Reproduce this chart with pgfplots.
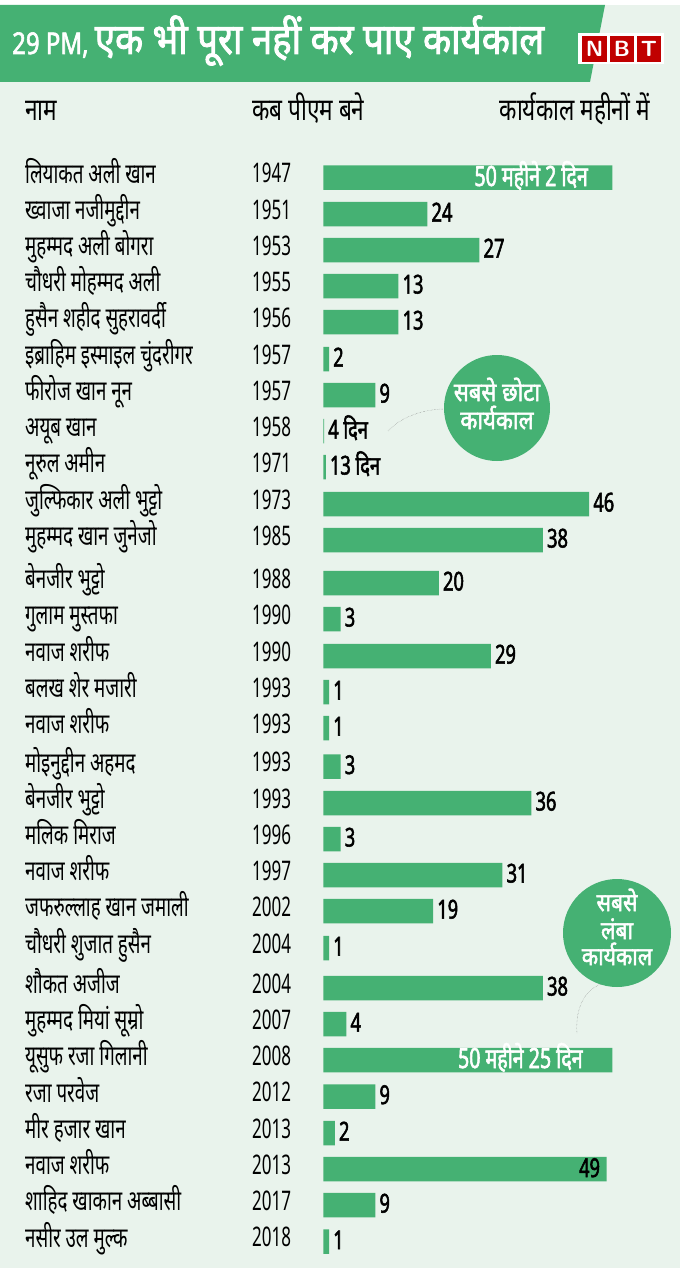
\documentclass[border=0pt]{standalone}
\usepackage{pgfplots}
\usepackage{pgfplotstable}
\pgfplotsset{compat=1.18}
\usepackage{fontspec}
\newfontfamily\namef[Script=Devanagari,FakeStretch=0.67]{Noto Sans}
\newfontfamily\yearf[Script=Devanagari,FakeStretch=0.63]{Noto Sans}
\newfontfamily\headf[Script=Devanagari,FakeStretch=0.73]{Noto Sans}
\newfontfamily\boldf[Script=Devanagari,FakeStretch=0.70,FakeBold=2]{Noto Sans}
\newfontfamily\bubf[Script=Devanagari,FakeStretch=0.85,FakeBold=2]{Noto Sans}
\newfontfamily\titlef[Script=Devanagari,FakeStretch=0.85,FakeBold=2]{Noto Sans}
\newfontfamily\titlel[Script=Devanagari,FakeStretch=0.80,FakeBold=2]{Noto Sans}
\definecolor{bg}{HTML}{E9F3EC}
\definecolor{barg}{HTML}{45B173}
\definecolor{nbtred}{HTML}{C00000}

\pgfplotstableread[col sep=comma]{
y,v,name,year,lab
177.5,50,लियाकत अली खान,1947,
214,18,ख्वाजा नजीमुद्दीन,1951,24
250,27,मुहम्मद अली बोगरा,1953,27
286,13,चौधरी मोहम्मद अली,1955,13
322,13,हुसैन शहीद सुहरावर्दी,1956,13
359,1,इब्राहिम इस्माइल चुंदरीगर,1957,2
395,9,फीरोज खान नून,1957,9
431,0.13,अयूब खान,1958,4 दिन
467,0.43,नूरुल अमीन,1971,13 दिन
504,46,जुल्फिकार अली भुट्टो,1973,46
540,38,मुहम्मद खान जुनेजो,1985,38
583,20,बेनजीर भुट्टो,1988,20
619,3,गुलाम मुस्तफा,1990,3
656,29,नवाज शरीफ,1990,29
692,1,बलख शेर मजारी,1993,1
728,1,नवाज शरीफ,1993,1
766.5,3,मोइनुद्दीन अहमद,1993,3
803,36,बेनजीर भुट्टो,1993,36
839,3,मलिक मिराज,1996,3
875,31,नवाज शरीफ,1997,31
911,19,जफरुल्लाह खान जमाली,2002,19
948,1,चौधरी शुजात हुसैन,2004,1
988,38,शौकत अजीज,2004,38
1024,4,मुहम्मद मियां सूम्रो,2007,4
1060,50,यूसुफ रजा गिलानी,2008,
1096.5,9,रजा परवेज,2012,9
1133,2,मीर हजार खान,2013,2
1169,49,नवाज शरीफ,2013,
1205,9,शाहिद खाकान अब्बासी,2017,9
1241.7,1,नसीर उल मुल्क,2018,1
}\pmtable

\begin{document}
\begin{tikzpicture}
\begin{scope}[x=1pt,y=-1pt]
  \fill[white] (0,0) rectangle (680,1273);
  \fill[bg] (0,5) rectangle (680,1268);
  \fill[barg] (0,5) -- (605,5) -- (590,82) -- (0,82) -- cycle;
  \node[anchor=base west,inner sep=0,text=white] at (12,54) {{\titlel\fontsize{30}{30}\selectfont 29 PM,\ }{\titlef\fontsize{43}{43}\selectfont एक भी पूरा नहीं कर पाए कार्यकाल}};
  % logo
  \fill[white] (578,33) rectangle (664,64);
  \fill[nbtred] (582,36) rectangle (607,62);
  \fill[nbtred] (610,36) rectangle (634,62);
  \fill[nbtred] (637,36) rectangle (661,62);
  \node[text=white,font=\sffamily\bfseries\fontsize{22}{22}\selectfont,inner sep=0] at (594.5,49) {N};
  \node[text=white,font=\sffamily\bfseries\fontsize{22}{22}\selectfont,inner sep=0] at (622,49) {B};
  \node[text=white,font=\sffamily\bfseries\fontsize{22}{22}\selectfont,inner sep=0] at (649,49) {T};
  % headers
  \node[anchor=base west,inner sep=0,font=\headf\fontsize{31}{31}\selectfont] at (25,121) {नाम};
  \node[anchor=base west,inner sep=0,font=\headf\fontsize{31}{31}\selectfont] at (252,121) {कब पीएम बने};
  \node[anchor=base east,inner sep=0,font=\headf\fontsize{31}{31}\selectfont] at (650,121) {कार्यकाल महीनों में};
  % bubbles
  \fill[barg] (497,408) circle (53);
  \node[anchor=base,text=white,font=\bubf\fontsize{26}{26}\selectfont,inner sep=0] at (497,401) {सबसे छोटा};
  \node[anchor=base,text=white,font=\bubf\fontsize{26}{26}\selectfont,inner sep=0] at (497,429) {कार्यकाल};
  \draw[densely dotted,gray,thin] (388,431) .. controls (402,416) and (425,409) .. (445,409);
  \fill[barg] (617,933) circle (54);
  \node[anchor=base,text=white,font=\bubf\fontsize{25}{25}\selectfont,inner sep=0] at (617,911) {सबसे};
  \node[anchor=base,text=white,font=\bubf\fontsize{25}{25}\selectfont,inner sep=0] at (617,939) {लंबा};
  \node[anchor=base,text=white,font=\bubf\fontsize{25}{25}\selectfont,inner sep=0] at (617,965) {कार्यकाल};
  \draw[densely dotted,gray,thin] (577,1033) .. controls (575,1008) and (585,990) .. (601,984);
\end{scope}
\begin{axis}[at={(0,0)},anchor=north west,
  width=680pt,height=1273pt,scale only axis,hide axis,clip=false,
  xmin=-55.93,xmax=61.71,ymin=0,ymax=1273,y dir=reverse]
  \addplot[xbar,bar width=24.5pt,fill=barg,draw=none,
    nodes near coords={\pgfplotspointmeta},point meta=explicit symbolic,
    nodes near coords style={anchor=base west,inner sep=0,xshift=4pt,yshift=-7.5pt,
      text=black,font=\boldf\fontsize{26}{26}\selectfont}]
    table[x=v,y=y,meta=lab]{\pmtable};
  \addplot[draw=none,mark=none,
    nodes near coords={\pgfplotspointmeta},point meta=explicit symbolic,
    nodes near coords style={anchor=base west,inner sep=0,
      font=\namef\fontsize{28}{28}\selectfont}]
    table[x expr=-51.61,y expr=\thisrow{y}+5.5,meta=name]{\pmtable};
  \addplot[draw=none,mark=none,
    nodes near coords={\pgfplotspointmeta},point meta=explicit symbolic,
    nodes near coords style={anchor=base west,inner sep=0,
      font=\yearf\fontsize{27}{27}\selectfont}]
    table[x expr=-12.34,y expr=\thisrow{y}+5,meta=year]{\pmtable};
  \node[anchor=base east,inner sep=0,text=white,font=\boldf\fontsize{28}{28}\selectfont] at (axis cs:45.8,186) {50 महीने 2 दिन};
  \node[anchor=base east,inner sep=0,text=white,font=\boldf\fontsize{28}{28}\selectfont] at (axis cs:44.9,1068) {50 महीने 25 दिन};
  \node[anchor=base east,inner sep=0,text=black,font=\boldf\fontsize{26}{26}\selectfont] at (axis cs:47.9,1177) {49};
\end{axis}
\end{tikzpicture}
\end{document}
